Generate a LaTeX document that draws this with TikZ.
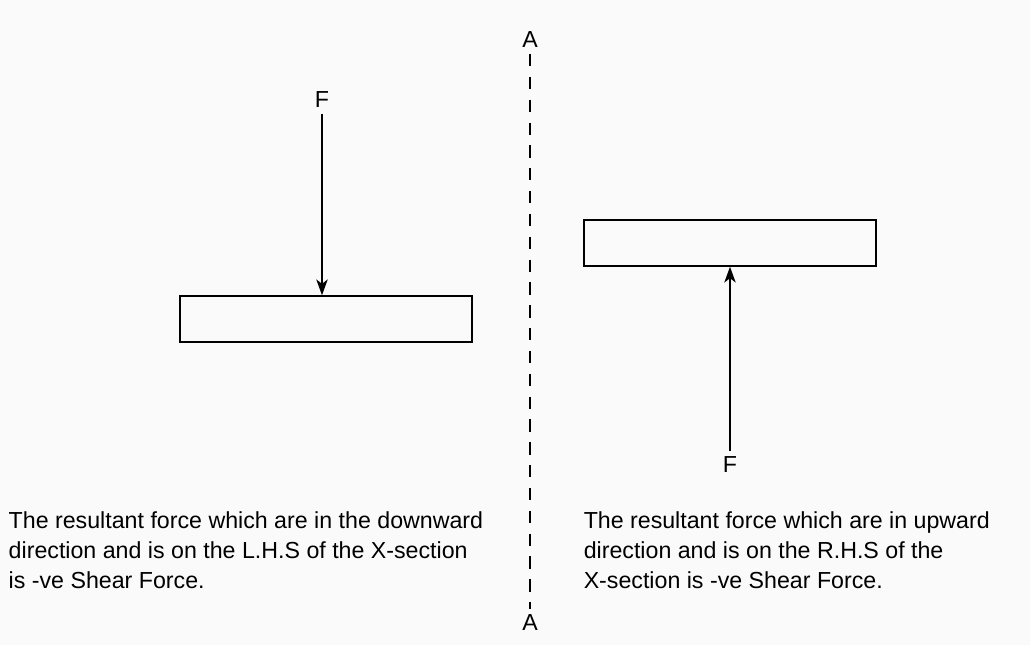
\documentclass[tikz,border=0pt]{standalone}
\usepackage{fontspec}
\setmainfont{Liberation Sans}
\usetikzlibrary{arrows.meta}
\begin{document}
\begin{tikzpicture}[x=0.02cm, y=-0.02cm, >={Stealth[length=9pt,width=6.5pt,inset=2.5pt]}, line width=0.85pt,
  beam/.style={draw, rectangle, minimum width=292*0.02cm, minimum height=46*0.02cm, inner sep=0pt},
  lbl/.style={inner sep=3pt, font=\fontsize{13.2}{17}\selectfont},
  note/.style={anchor=north west, align=left, inner sep=0pt, font=\fontsize{13.2}{17}\selectfont}]
\fill[white!98!black] (0,0) rectangle (1030,645);
\useasboundingbox (0,0) rectangle (1030,645);
\node[beam] (lbeam) at (326,319) {};
\node[beam] (rbeam) at (730,243) {};
\node[lbl] (lf) at (322,100) {F};
\node[lbl] (rf) at (730,465) {F};
\node[lbl] (atop) at (530,40) {A};
\node[lbl] (abot) at (530,623) {A};
\draw[->] (lf.south) -- (lf.south |- lbeam.north);
\draw[->] (rf.north) -- (rf.north |- rbeam.south);
\draw[dash pattern=on 7pt off 6pt] (atop.south) -- (abot.north);
\node[note] (lnote) at (8,511) {The resultant force which are in the downward\\direction and is on the L.H.S of the X-section\\is -ve Shear Force.};
\node[note] (rnote) at (583,511) {The resultant force which are in upward\\direction and is on the R.H.S of the\\X-section is -ve Shear Force.};
\end{tikzpicture}
\end{document}
